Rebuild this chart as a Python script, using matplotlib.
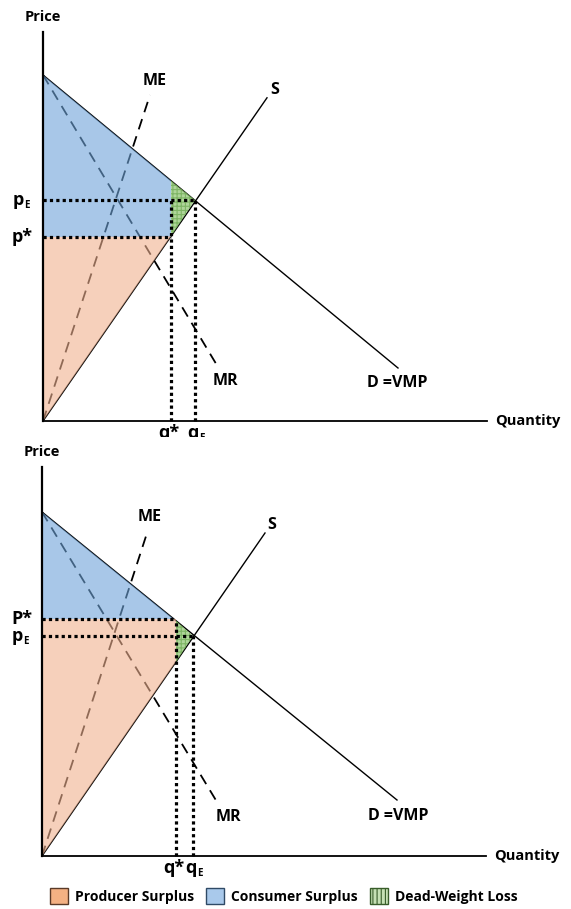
import matplotlib.pyplot as plt
from matplotlib.patches import Patch
import numpy as np

plt.rcParams['font.family'] = ['Open Sans', 'DejaVu Sans']
plt.rcParams['font.weight'] = 'bold'
plt.rcParams['hatch.linewidth'] = 0.8

# curve end points as (quantity, price)
top_demand = [(0, 8.65), (8.875, 1.325)]
top_supply = [(0, 0), (5.6, 8.08)]
top_me = [(0, 0), (2.675, 8.15)]
top_mr = [(0, 8.65), (4.375, 1.35)]
top_q = [3.2, 3.8]        # q*, qE
top_p = [4.6, 5.525]      # p*, pE

bot_demand = [(0, 8.6), (8.875, 1.4)]
bot_supply = [(0, 0), (5.575, 8.075)]
bot_me = [(0, 0), (2.65, 8.15)]
bot_mr = [(0, 8.6), (4.375, 1.35)]
bot_q = [3.35, 3.775]
bot_p = [5.925, 5.5]

legend_labels = ['Producer Surplus', 'Consumer Surplus', 'Dead-Weight Loss']

BLUE = '#6ea3d9'
ORANGE = '#f0b18f'
GREEN = '#8cc46e'


def at(line, q):
    xs, ys = zip(*line)
    return float(np.interp(q, xs, ys))


def q_at(line, p):
    xs, ys = zip(*line)
    return float(np.interp(p, ys[::-1], xs[::-1]))


def draw_panel(ax, demand, supply, me, mr, q, p, upper, labels, pstar):
    qs, qe = q
    ps, pe = p
    # curves
    for line in (demand, supply):
        ax.plot(*zip(*line), color='black', lw=1.0, zorder=1)
    for line in (me, mr):
        ax.plot(*zip(*line), color='black', lw=1.3, ls=(0, (6, 4)), zorder=1)

    # surplus areas
    if upper:
        # consumer surplus runs down to p*
        cs = [(0, at(demand, 0)), (qs, at(demand, qs)), (qs, ps), (0, ps)]
        ps_poly = [(0, 0), (qs, at(supply, qs)), (0, ps)]
    else:
        cs = [(0, at(demand, 0)), (q_at(demand, ps), ps), (0, ps)]
        ps_poly = [(0, 0), (qs, at(supply, qs)), (qs, ps), (0, ps)]
    dwl = [(qs, at(demand, qs)), (qe, pe), (qs, at(supply, qs))]
    ax.fill(*zip(*cs), color=BLUE, alpha=0.6, lw=0, zorder=2)
    ax.fill(*zip(*ps_poly), color=ORANGE, alpha=0.6, lw=0, zorder=2)
    ax.fill(*zip(*dwl), facecolor=GREEN, edgecolor='#6aa84f', hatch='++++',
            alpha=0.7, lw=0, zorder=2)

    # dotted guide lines
    dot = dict(color='black', lw=2.3, ls=(0, (1, 1)), dash_capstyle='butt', zorder=3)
    ax.plot([0, qs], [ps, ps], **dot)
    ax.plot([0, qe], [pe, pe], **dot)
    ax.plot([qs, qs], [0, min(at(demand, qs), max(ps, pe))], **dot)
    ax.plot([qe, qe], [0, pe], **dot)

    # axes
    ax.plot([0, 0], [0, 9.725], color='black', lw=1.6, zorder=4)
    ax.plot([0, 11.1], [0, 0], color='black', lw=1.3, zorder=4)

    txt = dict(fontsize=11.5, fontweight='bold', ha='center', va='center')
    ax.text(0, 10.1, 'Price', fontsize=10.5, fontweight='bold', ha='center', va='center')
    ax.text(11.3, 0, 'Quantity', fontsize=10.5, fontweight='bold', ha='left', va='center')
    for s, (x, y) in labels.items():
        ax.text(x, y, s, **txt)

    # price / quantity labels with subscripts
    big = dict(fontsize=13, fontweight='bold', va='center')
    sub = dict(fontsize=7, fontweight='bold', ha='left', va='center')
    ax.text(-0.25, ps, pstar + '*', ha='right', **big)
    ax.text(-0.47, pe, 'p', ha='right', **big)
    ax.text(-0.47, pe - 0.13, 'E', **sub)
    ax.text(qs - 0.05, -0.3, 'q*', ha='center', clip_on=True, **big)
    ax.text(qe - 0.05, -0.3, 'q', ha='center', clip_on=True, **big)
    ax.text(qe + 0.1, -0.43, 'E', clip_on=True, **sub)


fig = plt.figure(figsize=(5.71, 9.09), dpi=100)
H = 909.0

# top panel: origin at pixel (43, 421), 40 px per unit
ax1 = fig.add_axes([0, (H - 437) / H, 1, 437 / H])
ax1.set_xlim(-43 / 40, (571 - 43) / 40)
ax1.set_ylim((421 - 437) / 40, 421 / 40)
ax1.axis('off')

# bottom panel: origin at pixel (42, 856)
ax2 = fig.add_axes([0, (H - 880) / H, 1, 440 / H])
ax2.set_xlim(-42 / 40, (571 - 42) / 40)
ax2.set_ylim((856 - 880) / 40, (856 - 440) / 40)
ax2.axis('off')

lab1 = {'ME': (2.8, 8.5), 'S': (5.8, 8.28), 'MR': (4.55, 1.0), 'D =VMP': (8.85, 0.95)}
lab2 = {'ME': (2.7, 8.47), 'S': (5.73, 8.28), 'MR': (4.65, 0.98), 'D =VMP': (8.9, 1.0)}

draw_panel(ax1, top_demand, top_supply, top_me, top_mr, top_q, top_p, True, lab1, 'p')
draw_panel(ax2, bot_demand, bot_supply, bot_me, bot_mr, bot_q, bot_p, False, lab2, 'P')

handles = [
    Patch(facecolor='#f4b183', edgecolor='#5a3a28', lw=1.0),
    Patch(facecolor='#a9c9eb', edgecolor='#2f4a66', lw=1.0),
    Patch(facecolor='#c5e0b4', edgecolor='#385d2a', hatch='||||', lw=1.0),
]
fig.legend(handles, legend_labels, loc='center', bbox_to_anchor=(0.497, 1 - 896 / H),
           ncol=3, frameon=False, handlelength=1.3, handleheight=1.3,
           handletextpad=0.5, columnspacing=0.9, prop={'weight': 'bold', 'size': 10})

fig.savefig('out.png', dpi=100)
